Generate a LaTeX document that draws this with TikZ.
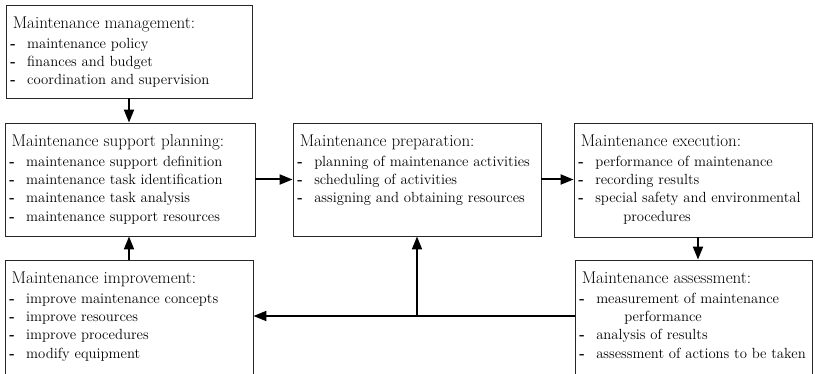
\documentclass[tikz,border=0pt]{standalone}
\usetikzlibrary{arrows.meta}
\tikzset{
  box/.style={draw=black!85, line width=0.9pt, rectangle, inner sep=0pt},
  ttl/.style={anchor=base west, inner sep=0pt, font=\fontsize{17}{20}\selectfont, text=black},
  itm/.style={anchor=base west, inner sep=0pt, font=\fontsize{14.7}{17}\selectfont, text=black},
  arr/.style={line width=2pt, draw=black, -{Triangle[length=13pt,width=10pt]}},
  ln/.style={line width=2pt, draw=black}
}
\newcommand\bul{\makebox[17pt][l]{\textbf{-}}}
\newcommand\cont{\hspace*{45pt}}
\newcommand\mlist[2]{\foreach \txt [count=\k] in {#2}{%
  \node[itm] (#1-\k) at ([shift={(4.5,{-44-(\k-1)*18.2})}]#1.north west) {\txt};}}
\begin{document}
\begin{tikzpicture}[x=1pt,y=1pt]
\useasboundingbox (0,0) rectangle (815,373);
% boxes
\node[box, minimum width=246, minimum height=93]  (b1) at (129,321.5) {};
\node[box, minimum width=250, minimum height=113] (b2) at (130,193.5) {};
\node[box, minimum width=248, minimum height=113] (b3) at (417,193.5) {};
\node[box, minimum width=238, minimum height=114] (b4) at (693,193) {};
\node[box, minimum width=248, minimum height=116] (b5) at (129,55) {};
\node[box, minimum width=237, minimum height=116] (b6) at (693.5,55) {};
% titles
\node[ttl] (t1) at ([shift={(7,-24)}]b1.north west) {Maintenance management:};
\node[ttl] (t2) at ([shift={(7,-24)}]b2.north west) {Maintenance support planning:};
\node[ttl] (t3) at ([shift={(7,-24)}]b3.north west) {Maintenance preparation:};
\node[ttl] (t4) at ([shift={(7,-24)}]b4.north west) {Maintenance execution:};
\node[ttl] (t5) at ([shift={(7,-24)}]b5.north west) {Maintenance improvement:};
\node[ttl] (t6) at ([shift={(7,-24)}]b6.north west) {Maintenance assessment:};
% items
\mlist{b1}{\bul maintenance policy, \bul finances and budget, \bul coordination and supervision}
\mlist{b2}{\bul maintenance support definition, \bul maintenance task identification, \bul maintenance task analysis, \bul maintenance support resources}
\mlist{b3}{\bul planning of maintenance activities, \bul scheduling of activities, \bul assigning and obtaining resources}
\mlist{b4}{\bul performance of maintenance, \bul recording results, \bul special safety and environmental, \cont procedures}
\mlist{b5}{\bul improve maintenance concepts, \bul improve resources, \bul improve procedures, \bul modify equipment}
\mlist{b6}{\bul measurement of maintenance, \cont performance, \bul analysis of results, \bul assessment of actions to be taken}
% connectors
\draw[arr] (b1.south) -- (b1.south |- b2.north);
\draw[arr] (b2.east) -- (b2.east -| b3.west);
\draw[arr] (b3.east) -- (b3.east -| b4.west);
\draw[arr] ([xshift=5]b4.south) -- ([xshift=5]b4.south |- b6.north);
\draw[arr] (b5.north) -- (b5.north |- b2.south);
\coordinate (j) at (b3.south |- 0,57);
\draw[arr] (b6.west |- j) -- (b5.east |- j);
\draw[arr] (j) -- (b3.south);
\end{tikzpicture}
\end{document}
